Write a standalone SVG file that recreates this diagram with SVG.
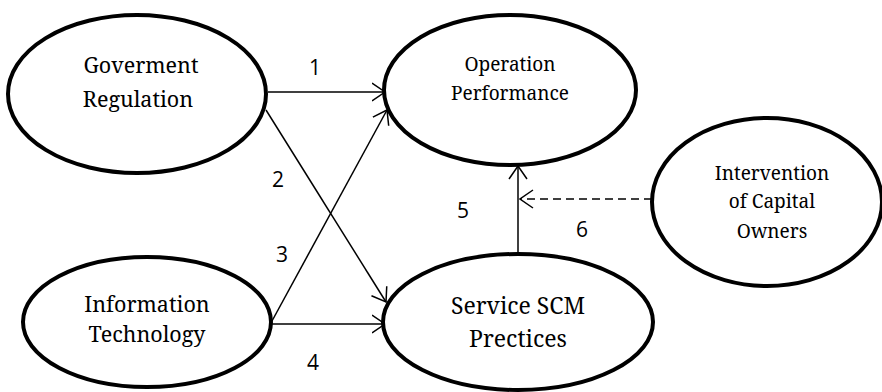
<svg xmlns="http://www.w3.org/2000/svg" width="882" height="392" viewBox="0 0 882 392">
<style>
.node ellipse{fill:#fff;stroke:#000;stroke-width:4}
.lbl{font-family:'Noto Serif','DejaVu Serif',serif;fill:#000;text-anchor:middle}
.num{font-family:'Open Sans','Liberation Sans',sans-serif;fill:#000;text-anchor:middle;font-size:21px}
.conn line{stroke:#000;stroke-width:1.5;fill:none}
</style>
<defs>
<marker id="arr" markerUnits="userSpaceOnUse" viewBox="0 0 15 20" markerWidth="15" markerHeight="20" refX="13.5" refY="10" orient="auto">
<path d="M0.5,1 L13.5,10 L0.5,19" fill="none" stroke="#000" stroke-width="1.5"/>
</marker>
</defs>
<g id="connectors" class="conn">
<line x1="268" y1="92" x2="385" y2="92" marker-end="url(#arr)"/>
<line x1="266" y1="110" x2="386" y2="302" marker-end="url(#arr)"/>
<line x1="272" y1="321" x2="387" y2="110" marker-end="url(#arr)"/>
<line x1="272" y1="324" x2="385" y2="324" marker-end="url(#arr)"/>
<line x1="518" y1="253" x2="518" y2="166" marker-end="url(#arr)"/>
<line x1="652" y1="199" x2="520" y2="199" stroke-dasharray="8,5" marker-end="url(#arr)"/>
</g>
<g id="gov" class="node">
<ellipse cx="137" cy="94" rx="129" ry="79"/>
<text class="lbl" x="141" y="73" font-size="21.5">Goverment</text>
<text class="lbl" x="138" y="107" font-size="21.5">Regulation</text>
</g>
<g id="op" class="node">
<ellipse cx="510" cy="90" rx="126" ry="75"/>
<text class="lbl" x="510" y="71" font-size="19">Operation</text>
<text class="lbl" x="510" y="100" font-size="19">Performance</text>
</g>
<g id="it" class="node">
<ellipse cx="147" cy="322" rx="124" ry="65"/>
<text class="lbl" x="147" y="312" font-size="21.5">Information</text>
<text class="lbl" x="147" y="342" font-size="21.5">Technology</text>
</g>
<g id="scm" class="node">
<ellipse cx="518" cy="322" rx="135" ry="68"/>
<text class="lbl" x="518" y="314" font-size="23">Service SCM</text>
<text class="lbl" x="518" y="347" font-size="23">Prectices</text>
</g>
<g id="cap" class="node">
<ellipse cx="767" cy="202" rx="115" ry="84"/>
<text class="lbl" x="772" y="180" font-size="19">Intervention</text>
<text class="lbl" x="772" y="208" font-size="19">of Capital</text>
<text class="lbl" x="772" y="238" font-size="19">Owners</text>
</g>
<g id="labels">
<text class="num" x="315" y="75" font-size="17">1</text>
<text class="num" x="278" y="187">2</text>
<text class="num" x="282" y="262">3</text>
<text class="num" x="313" y="370">4</text>
<text class="num" x="463" y="218">5</text>
<text class="num" x="582" y="237">6</text>
</g>
</svg>
